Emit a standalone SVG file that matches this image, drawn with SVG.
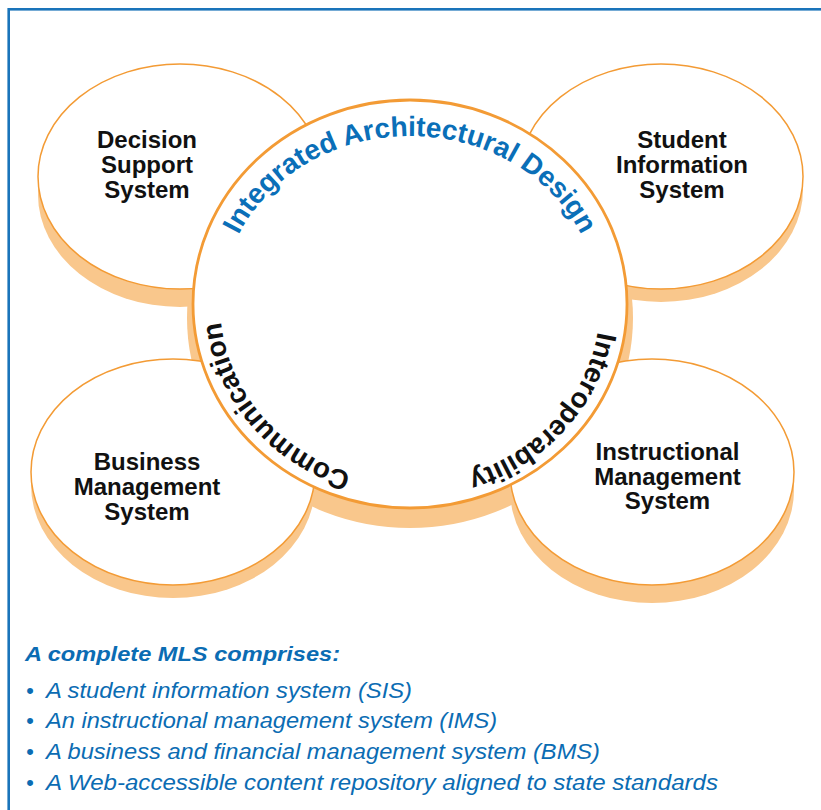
<svg xmlns="http://www.w3.org/2000/svg" width="821" height="810" viewBox="0 0 821 810">
<defs>
<style>
.side{fill:#F9C78C;stroke:none}
.face{fill:#FFFFFF;stroke:#F39B35;stroke-width:1.5}
.hub{fill:#FFFFFF;stroke:#F39B35;stroke-width:2.8}
.lbl{font-family:"Liberation Sans",Arial,Helvetica,sans-serif;font-weight:bold;font-size:24px;fill:#111111;text-anchor:middle}
.arc{font-family:"Liberation Sans",Arial,Helvetica,sans-serif;font-weight:bold;font-size:28px}
.hd{font-family:"Liberation Sans",Arial,Helvetica,sans-serif;font-weight:bold;font-style:italic;font-size:21px;fill:#0B6CB3}
.bl{font-family:"Liberation Sans",Arial,Helvetica,sans-serif;font-style:italic;font-size:22px;fill:#0B6CB3}
</style>
<path id="pTop" d="M222,304 A188,168 0 0 1 598,304"/>
<path id="pInt" d="M597.7,331.8 A190,178 0 0 1 377,479.3"/>
<path id="pCom" d="M351.3,473.3 A190,178 0 0 1 231.5,243.1"/>
</defs>
<rect x="0" y="0" width="821" height="810" fill="#FFFFFF"/>
<rect x="8.7" y="9.3" width="900" height="900" fill="none" stroke="#1A74BA" stroke-width="2.6"/>

<g id="hub-side">
<ellipse class="side" cx="410" cy="318" rx="223" ry="210"/>
</g>

<g id="node-dss">
<path class="side" d="M38,176.5 L38,194.5 A142,112.5 0 0 0 322,194.5 L322,176.5 A142,112.5 0 0 0 38,176.5 Z"/>
<ellipse class="face" cx="180" cy="176.5" rx="142" ry="112.5"/>
<text class="lbl" x="147" y="148">Decision</text>
<text class="lbl" x="147" y="173">Support</text>
<text class="lbl" x="147" y="198">System</text>
</g>

<g id="node-sis">
<path class="side" d="M519,176.5 L519,189.5 A142,112.5 0 0 0 803,189.5 L803,176.5 A142,112.5 0 0 0 519,176.5 Z"/>
<ellipse class="face" cx="661" cy="176.5" rx="142" ry="112.5"/>
<text class="lbl" x="682" y="148">Student</text>
<text class="lbl" x="682" y="173">Information</text>
<text class="lbl" x="682" y="198">System</text>
</g>

<g id="node-bms">
<path class="side" d="M31,472 L31,485 A142,113 0 0 0 315,485 L315,472 A142,113 0 0 0 31,472 Z"/>
<ellipse class="face" cx="173" cy="472" rx="142" ry="113"/>
<text class="lbl" x="147" y="470">Business</text>
<text class="lbl" x="147" y="495">Management</text>
<text class="lbl" x="147" y="520">System</text>
</g>

<g id="node-ims">
<path class="side" d="M510,472 L510,490 A142,113 0 0 0 794,490 L794,472 A142,113 0 0 0 510,472 Z"/>
<ellipse class="face" cx="652" cy="472" rx="142" ry="113"/>
<text class="lbl" x="667.5" y="460">Instructional</text>
<text class="lbl" x="667.5" y="485">Management</text>
<text class="lbl" x="667.5" y="509">System</text>
</g>

<g id="node-hub">
<ellipse class="hub" cx="410" cy="304" rx="217" ry="204"/>
<text class="arc" fill="#0A6FB8"><textPath href="#pTop" startOffset="50%" text-anchor="middle">Integrated Architectural Design</textPath></text>
<text class="arc" fill="#111111"><textPath href="#pInt">Interoperability</textPath></text>
<text class="arc" fill="#111111"><textPath href="#pCom">Communication</textPath></text>
</g>

<g id="connectors"></g>

<g id="legend">
<text class="hd" x="25" y="661" textLength="315" lengthAdjust="spacingAndGlyphs">A complete MLS comprises:</text>
<text class="bl" x="26" y="698">•</text>
<text class="bl" x="46" y="698" textLength="366" lengthAdjust="spacingAndGlyphs">A student information system (SIS)</text>
<text class="bl" x="26" y="728">•</text>
<text class="bl" x="46" y="728" textLength="451" lengthAdjust="spacingAndGlyphs">An instructional management system (IMS)</text>
<text class="bl" x="26" y="759">•</text>
<text class="bl" x="46" y="759" textLength="554" lengthAdjust="spacingAndGlyphs">A business and financial management system (BMS)</text>
<text class="bl" x="26" y="790">•</text>
<text class="bl" x="46" y="790" textLength="672" lengthAdjust="spacingAndGlyphs">A Web-accessible content repository aligned to state standards</text>
</g>
</svg>
